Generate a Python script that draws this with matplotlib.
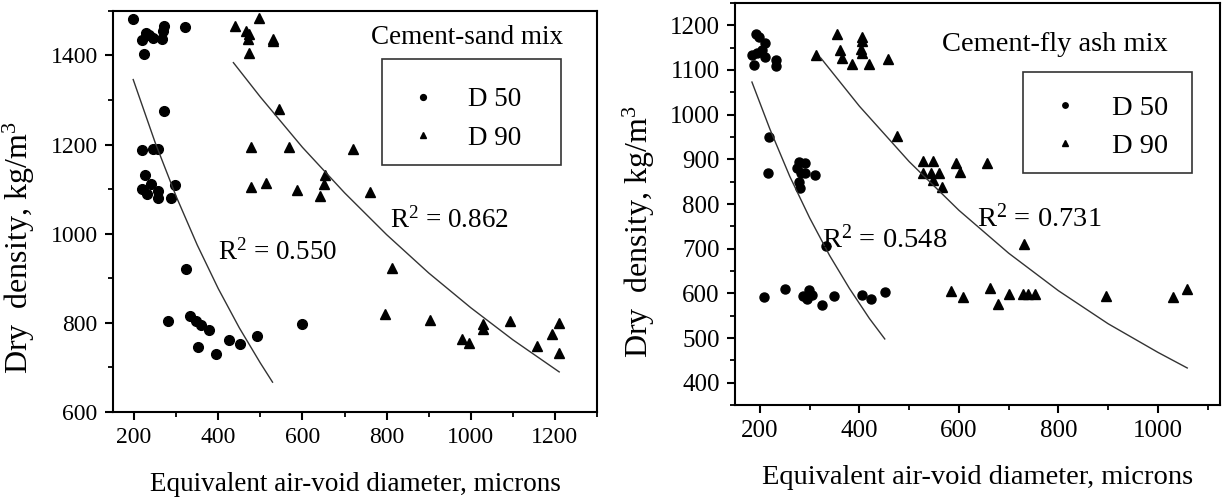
import numpy as np
import matplotlib
matplotlib.use('Agg')
import matplotlib.pyplot as plt
from matplotlib.ticker import MultipleLocator
from matplotlib.patches import Rectangle

plt.rcParams['font.family'] = ['Liberation Serif', 'DejaVu Serif']
plt.rcParams['mathtext.fontset'] = 'custom'
plt.rcParams['mathtext.rm'] = 'Liberation Serif'
plt.rcParams['mathtext.it'] = 'Liberation Serif:italic'

# ---- Cement-sand mix ----
sand_d50_x = [198, 321, 272, 268, 228, 236, 244, 218, 266, 224, 270, 218, 245, 256,
              226, 218, 240, 230, 256, 258, 288, 298,
              323, 281, 334, 347, 358, 377, 353, 395, 425, 452, 492, 598]
sand_d50_y = [1483, 1464, 1467, 1455, 1451, 1447, 1440, 1434, 1438, 1404, 1275, 1189, 1191, 1191,
              1131, 1101, 1112, 1090, 1095, 1080, 1080, 1110,
              921, 804, 816, 805, 795, 784, 747, 730, 762, 752, 771, 797]
sand_d90_x = [496, 439, 466, 473, 471, 529, 530, 473, 544, 479, 568, 721, 479, 513,
              586, 642, 651, 653, 761, 814, 797, 904, 978, 995, 1029, 1029, 1093,
              1157, 1194, 1210, 1210]
sand_d90_y = [1485, 1467, 1455, 1449, 1438, 1438, 1433, 1406, 1279, 1195, 1195, 1191, 1104, 1115,
              1099, 1084, 1112, 1131, 1093, 924, 820, 807, 763, 754, 798, 786, 805,
              748, 775, 799, 732]
# fitted trend lines
sand_fit50_x = [198, 250, 300, 350, 400, 450, 500, 529]
sand_fit50_y = [1346, 1205, 1084, 975, 877, 789, 710, 667]
sand_fit90_x = [436, 500, 600, 700, 800, 900, 1000, 1100, 1210]
sand_fit90_y = [1384, 1307, 1194, 1092, 998, 912, 834, 762, 690]

# ---- Cement-fly ash mix ----
ash_d50_x = [193, 198, 211, 185, 195, 205, 188, 233, 233, 211, 218, 216, 278, 290,
             275, 282, 311, 278, 280, 290, 332, 208, 250, 287, 299, 295, 304,
             325, 349, 406, 424, 451]
ash_d50_y = [1181, 1174, 1160, 1133, 1137, 1144, 1111, 1122, 1108, 1129, 949, 870, 895, 891,
             880, 869, 865, 850, 835, 869, 706, 591, 609, 595, 608, 588, 597,
             573, 595, 597, 588, 604]
ash_d90_x = [354, 406, 406, 403, 362, 366, 386, 419, 458, 312, 406, 476, 528, 547,
             527, 543, 560, 547, 567, 594, 602, 657, 731, 608, 585, 663, 678,
             700, 728, 738, 753, 896, 1030, 1059]
ash_d90_y = [1181, 1174, 1166, 1148, 1144, 1126, 1114, 1114, 1124, 1133, 1137, 952, 897, 897,
             869, 869, 870, 854, 839, 891, 872, 891, 710, 592, 606, 612, 576,
             599, 599, 599, 599, 593, 592, 609]
ash_fit50_x = [184, 220, 260, 300, 340, 380, 420, 451]
ash_fit50_y = [1073, 968, 862, 769, 685, 611, 544, 498]
ash_fit90_x = [323, 400, 500, 600, 700, 800, 900, 1000, 1059]
ash_fit90_y = [1126, 1019, 895, 786, 690, 606, 532, 468, 433]

fig = plt.figure(figsize=(12.23, 4.97), dpi=100)
ax1 = fig.add_axes([0.0924, 0.171, 0.3958, 0.807])
ax2 = fig.add_axes([0.601, 0.185, 0.3966, 0.809])


def style_axis(ax, fs):
    for s in ax.spines.values():
        s.set_linewidth(1.5)
    ax.tick_params(which='major', direction='out', length=6, width=1.5,
                   labelsize=fs, pad=5)
    ax.tick_params(which='minor', direction='out', length=3.5, width=1.3)
    ax.tick_params(top=False, right=False, which='both')


def legend_box(ax, x0, y0, w, h, anchor, fs, spacing):
    ax.add_patch(Rectangle((x0, y0), w, h, transform=ax.transAxes, fill=False,
                           edgecolor='#333333', lw=1.2, zorder=5))
    ax.legend(loc='upper left', bbox_to_anchor=anchor, fontsize=fs,
              markerscale=0.6, handlelength=1.0, handletextpad=1.15,
              borderpad=0, labelspacing=spacing, borderaxespad=0,
              frameon=False)


# left panel
ax1.plot(sand_d50_x, sand_d50_y, 'o', color='black', ms=7, label='D 50')
ax1.plot(sand_d90_x, sand_d90_y, '^', color='black', ms=7.5, label='D 90')
ax1.plot(sand_fit50_x, sand_fit50_y, '-', color='#333333', lw=1.0)
ax1.plot(sand_fit90_x, sand_fit90_y, '-', color='#333333', lw=1.0)
ax1.set_xlim(150, 1300)
ax1.set_ylim(600, 1500)
ax1.xaxis.set_major_locator(MultipleLocator(200))
ax1.xaxis.set_minor_locator(MultipleLocator(100))
ax1.yaxis.set_major_locator(MultipleLocator(200))
ax1.yaxis.set_minor_locator(MultipleLocator(100))
style_axis(ax1, 17)
ax1.set_xlabel('Equivalent air-void diameter, microns', fontsize=19.5, labelpad=17)
ax1.set_ylabel('Dry  density, kg/m$^3$', fontsize=23)
ax1.yaxis.set_label_coords(-0.157, 0.41)
ax1.text(0.731, 0.935, 'Cement-sand mix', transform=ax1.transAxes,
         fontsize=19.5, ha='center', va='center')
ax1.text(0.217, 0.399, 'R$^2$ = 0.550', transform=ax1.transAxes,
         fontsize=19.5, ha='left', va='center')
ax1.text(0.572, 0.479, 'R$^2$ = 0.862', transform=ax1.transAxes,
         fontsize=19.5, ha='left', va='center')
legend_box(ax1, 0.556, 0.616, 0.370, 0.264, (0.613, 0.810), 19.5, 0.5)

# right panel
ax2.plot(ash_d50_x, ash_d50_y, 'o', color='black', ms=6.5, label='D 50')
ax2.plot(ash_d90_x, ash_d90_y, '^', color='black', ms=7, label='D 90')
ax2.plot(ash_fit50_x, ash_fit50_y, '-', color='#333333', lw=1.0)
ax2.plot(ash_fit90_x, ash_fit90_y, '-', color='#333333', lw=1.0)
ax2.set_xlim(150, 1125)
ax2.set_ylim(350, 1250)
ax2.xaxis.set_major_locator(MultipleLocator(200))
ax2.xaxis.set_minor_locator(MultipleLocator(100))
ax2.yaxis.set_major_locator(MultipleLocator(100))
ax2.yaxis.set_minor_locator(MultipleLocator(50))
style_axis(ax2, 18)
ax2.set_xlabel('Equivalent air-void diameter, microns', fontsize=20.5, labelpad=16)
ax2.set_ylabel('Dry  density, kg/m$^3$', fontsize=23)
ax2.yaxis.set_label_coords(-0.161, 0.43)
ax2.text(0.660, 0.896, 'Cement-fly ash mix', transform=ax2.transAxes,
         fontsize=20.5, ha='center', va='center')
ax2.text(0.179, 0.413, 'R$^2$ = 0.548', transform=ax2.transAxes,
         fontsize=20.5, ha='left', va='center')
ax2.text(0.499, 0.465, 'R$^2$ = 0.731', transform=ax2.transAxes,
         fontsize=20.5, ha='left', va='center')
legend_box(ax2, 0.594, 0.577, 0.348, 0.251, (0.651, 0.772), 20.5, 0.43)

fig.savefig('out.png', dpi=100)
